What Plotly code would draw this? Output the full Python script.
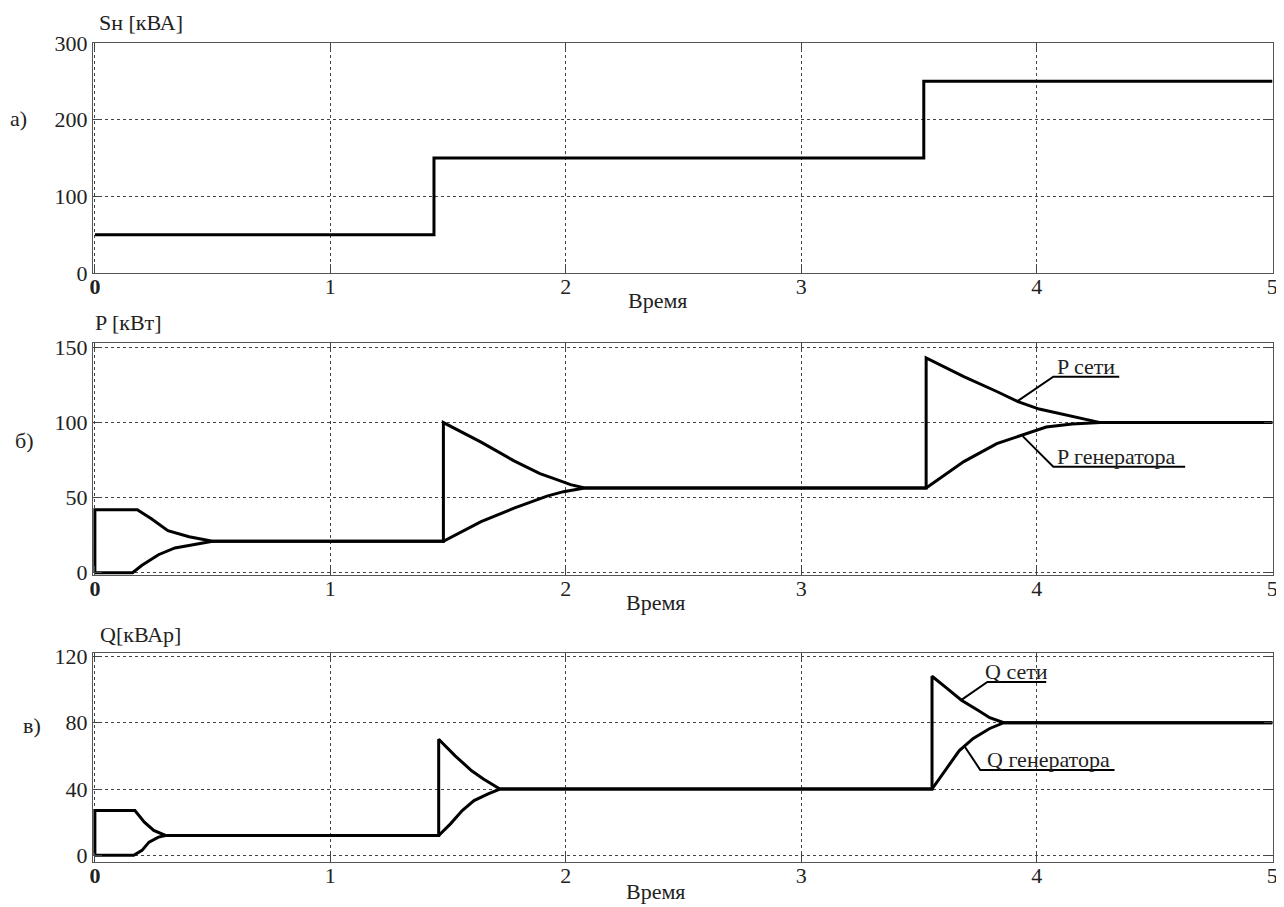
import plotly.graph_objects as go

# Panel a: load apparent power, kVA
t_load = [0, 1.44, 3.52, 5]
s_load = [50, 150, 250, 250]

# Panel b: active power, kW
t_p_grid = [0, 0, 0.18, 0.24, 0.31, 0.40, 0.50, 1.48, 1.48, 1.64, 1.78, 1.89, 1.95, 2.02, 2.08,
            3.53, 3.53, 3.69, 3.83, 3.92, 4.01, 4.13, 4.21, 4.27, 5]
p_grid = [0, 42, 42, 36, 28, 24, 21, 21, 100, 87, 74.5, 66, 62.7, 58.7, 56.5,
          56.5, 143, 130.6, 120.7, 114, 109, 105, 102, 100, 100]
t_p_gen = [0, 0.16, 0.20, 0.27, 0.34, 0.42, 0.50, 1.48, 1.64, 1.78, 1.92, 1.99, 2.08,
           3.53, 3.69, 3.83, 3.94, 4.04, 4.15, 4.27, 5]
p_gen = [0, 0, 5, 12, 16.5, 19, 21, 21, 34, 43, 51, 54, 56.5,
         56.5, 74, 86, 92, 97, 99, 100, 100]

# Panel c: reactive power, kVAr
t_q_grid = [0, 0, 0.17, 0.21, 0.25, 0.30, 1.46, 1.46, 1.53, 1.60, 1.65, 1.72,
            3.555, 3.555, 3.62, 3.68, 3.75, 3.80, 3.86, 5]
q_grid = [0, 27, 27, 20, 15, 12, 12, 70, 60, 51, 46, 40,
          40, 108, 100.5, 93.5, 87.5, 83, 80, 80]
t_q_gen = [0, 0.165, 0.20, 0.23, 0.27, 0.30, 1.46, 1.51, 1.56, 1.61, 1.67, 1.72,
           3.555, 3.62, 3.67, 3.73, 3.80, 3.86, 5]
q_gen = [0, 0, 3, 8, 11, 12, 12, 19, 27, 33, 37, 40,
         40, 53, 63, 70.5, 76.5, 80, 80]

# leader lines for curve labels (time, value)
lead_p_grid = ([3.915, 4.07, 4.35], [114, 130.6, 130.6])
lead_p_gen = ([3.94, 4.07, 4.63], [91, 70.6, 70.6])
lead_q_grid = ([3.68, 3.79, 4.04], [93.7, 104.5, 104.5])
lead_q_gen = ([3.695, 3.76, 4.33], [65.3, 51.5, 51.5])

x_ticks = [0, 1, 2, 3, 4, 5]
x_text = ['<b>0</b>', '1', '2', '3', '4', '5']

FONT = 'Times New Roman, Liberation Serif, DejaVu Serif, serif'
# the page body has an 8px margin, so the figure is placed 8px in from the corner
OFF = 8
W, H = 1284 - OFF, 907 - OFF
L, R = 93 - OFF, 1273 - OFF


def px(x):
    return (x - OFF - L) / (R - L)


def py(y):
    return 1 - (y - OFF) / H


fig = go.Figure()

line = dict(color='black', width=3)
fig.add_trace(go.Scatter(x=t_load, y=s_load, mode='lines', line=line, line_shape='hv',
                         xaxis='x', yaxis='y'))
fig.add_trace(go.Scatter(x=t_p_grid, y=p_grid, mode='lines', line=line, xaxis='x2', yaxis='y2'))
fig.add_trace(go.Scatter(x=t_p_gen, y=p_gen, mode='lines', line=line, xaxis='x2', yaxis='y2'))
fig.add_trace(go.Scatter(x=t_q_grid, y=q_grid, mode='lines', line=line, xaxis='x3', yaxis='y3'))
fig.add_trace(go.Scatter(x=t_q_gen, y=q_gen, mode='lines', line=line, xaxis='x3', yaxis='y3'))

lead = dict(color='black', width=2)
for (lx, ly), ax in [(lead_p_grid, '2'), (lead_p_gen, '2'), (lead_q_grid, '3'), (lead_q_gen, '3')]:
    fig.add_trace(go.Scatter(x=lx, y=ly, mode='lines', line=lead, xaxis='x' + ax, yaxis='y' + ax))

xax = dict(range=[-0.008, 5.003], tickvals=x_ticks, ticktext=x_text, showline=True, mirror='ticks',
           linecolor='#555', linewidth=1, ticks='inside', ticklen=9, tickcolor='#444',
           showgrid=True, gridcolor='#444', gridwidth=1, griddash='3px,3px', zeroline=False,
           automargin=False, ticklabelstandoff=-6,
           tickfont=dict(family=FONT, size=22, color='#222'))
yax = dict(showline=True, mirror='ticks', linecolor='#555', linewidth=1, ticks='inside',
           ticklen=9, tickcolor='#444', showgrid=True, gridcolor='#444', gridwidth=1,
           griddash='3px,3px', zeroline=False, automargin=False,
           tickfont=dict(family=FONT, size=22, color='#222'))

fig.update_layout(
    width=W, height=H, showlegend=False,
    paper_bgcolor='white', plot_bgcolor='white',
    margin=dict(l=L, r=W - R, t=0, b=0, autoexpand=False),
    font=dict(family=FONT, size=22, color='#222'),
    xaxis=dict(xax, domain=[0, 1], anchor='y'),
    yaxis=dict(yax, domain=[py(273), py(43)], range=[0, 300], tickvals=[0, 100, 200, 300], anchor='x'),
    xaxis2=dict(xax, domain=[0, 1], anchor='y2'),
    yaxis2=dict(yax, domain=[py(575), py(343)], range=[-1.5, 153], tickvals=[0, 50, 100, 150], anchor='x2'),
    xaxis3=dict(xax, domain=[0, 1], anchor='y3'),
    yaxis3=dict(yax, domain=[py(862), py(653)], range=[-4, 122], tickvals=[0, 40, 80, 120], anchor='x3'),
)

# (text, x px, y px, x anchor, y anchor)
paper_notes = [
    ('Sн [кВА]', 97, OFF, 'left', 'top'),
    ('P [кВт]', 93, 323, 'left', 'middle'),
    ('Q[кВАр]', 98, 634, 'left', 'middle'),
    ('а)', 18, 118, 'center', 'middle'),
    ('б)', 24, 441, 'center', 'middle'),
    ('в)', 32, 725, 'center', 'middle'),
    ('Время', 657, 300, 'center', 'middle'),
    ('Время', 655, 602, 'center', 'middle'),
    ('Время', 655, 891, 'center', 'middle'),
]
for text, x, y, xa, ya in paper_notes:
    fig.add_annotation(text=text, x=px(x), y=py(y), xref='paper', yref='paper',
                       xanchor=xa, yanchor=ya, showarrow=False,
                       font=dict(family=FONT, size=22, color='#222'))

curve_notes = [
    ('P сети', 4.076, 130.6, '2'),
    ('P генератора', 4.076, 70.6, '2'),
    ('Q сети', 3.77, 104.5, '3'),
    ('Q генератора', 3.78, 51.5, '3'),
]
for text, x, y, ax in curve_notes:
    fig.add_annotation(text=text, x=x, y=y, xref='x' + ax, yref='y' + ax,
                       xanchor='left', yanchor='bottom', yshift=-4, showarrow=False,
                       font=dict(family=FONT, size=22, color='#222'))

fig.write_html('out.html')
